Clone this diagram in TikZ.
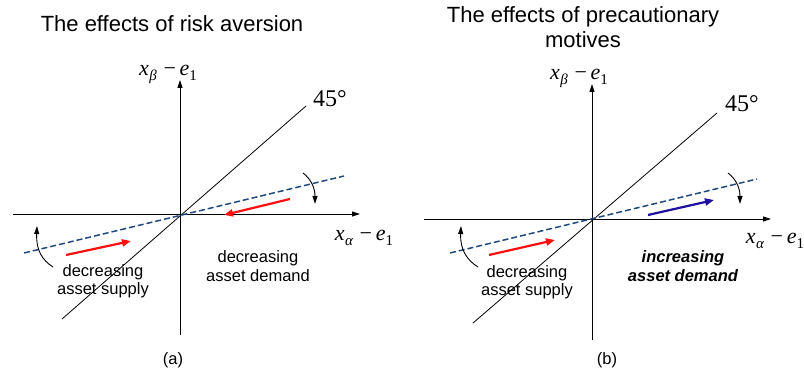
\documentclass[tikz,border=0pt]{standalone}
\usepackage{fontspec}
\setmainfont{Liberation Sans}
\newfontfamily\tms{Liberation Serif}
\usetikzlibrary{arrows.meta}
\definecolor{dashblue}{RGB}{31,73,125}
\definecolor{arrblue}{RGB}{32,16,160}
\definecolor{arrred}{RGB}{255,16,16}
\newcommand{\axlab}[1]{{\tms\fontsize{22}{24}\selectfont\itshape x\kern0.5pt\raisebox{-5pt}{\fontsize{15}{16}\selectfont #1}\kern3pt\upshape\,\textminus\,\itshape e\raisebox{-5pt}{\upshape\fontsize{15}{16}\selectfont 1}}}
\begin{document}
\begin{tikzpicture}[x=1pt,y=-1pt,
  axis/.style={line width=0.8pt,-{Triangle[length=8pt,width=5pt]}},
  fortyfive/.style={line width=0.8pt},
  dashln/.style={line width=1.5pt,dashed,dash pattern=on 6pt off 3pt,dashblue},
  redarr/.style={line width=2.2pt,arrred,-{Triangle[length=9pt,width=7pt]}},
  bluearr/.style={line width=2.2pt,arrblue,-{Triangle[length=9pt,width=7pt]}},
  curvarr/.style={line width=0.9pt,-{Triangle[length=8pt,width=5pt]}},
  title/.style={font=\fontsize{22}{25}\selectfont,align=center,inner sep=0pt},
  lab/.style={font=\fontsize{16.5}{18.5}\selectfont,align=center,inner sep=0pt},
  deg/.style={font=\tms\fontsize{24}{26}\selectfont,inner sep=0pt},
  math/.style={inner sep=0pt}]
\useasboundingbox (0,0) rectangle (804,377);
% ---------- panel (a)
\node[title] (ta) at (172,24) {The effects of risk aversion};
\coordinate (oa) at (180,214);
\coordinate (ya0) at (180,335);
\coordinate (ya1) at (180,80);
\coordinate (xa0) at (13,214);
\coordinate (xa1) at (360,214);
\draw[axis] (ya0) -- (ya1);
\draw[axis] (xa0) -- (xa1);
\coordinate (fa0) at (62,319);
\coordinate (fa1) at (306,106);
\draw[fortyfive] (fa0) -- (fa1);
\node[deg] (da) at (330,99) {45°};
\coordinate (dla0) at (24,253);
\coordinate (dla1) at (344,176);
\draw[dashln] (dla0) -- (dla1);
\coordinate (ra0) at (66,255);
\coordinate (ra1) at (131,241);
\draw[redarr] (ra0) -- (ra1);
\coordinate (rb0) at (290,199);
\coordinate (rb1) at (224,215);
\draw[redarr] (rb0) -- (rb1);
\coordinate (ca0) at (303,173);
\coordinate (ca1) at (315,204);
\draw[curvarr] (ca0) .. controls (311,179) and (315,188) .. (ca1);
\coordinate (cb0) at (53,267);
\coordinate (cb1) at (37,226);
\draw[curvarr] (cb0) .. controls (42,260) and (36,250) .. (cb1);
\node[math] (xla) at (364,238) {\axlab{α}};
\node[math] (yla) at (168,74) {\axlab{β}};
\node[lab] (sa) at (103,281) {decreasing\\asset supply};
\node[lab] (dma) at (258,266) {decreasing\\asset demand};
\node[lab] (pa) at (173,360) {(a)};
% ---------- panel (b)
\node[title] (tb) at (583,27) {The effects of precautionary\\motives};
\coordinate (ob) at (592,219);
\coordinate (yb0) at (592,340);
\coordinate (yb1) at (592,84);
\coordinate (xb0) at (424,219);
\coordinate (xb1) at (771,219);
\draw[axis] (yb0) -- (yb1);
\draw[axis] (xb0) -- (xb1);
\coordinate (fb0) at (473,323);
\coordinate (fb1) at (717,113);
\draw[fortyfive] (fb0) -- (fb1);
\node[deg] (db) at (742,104) {45°};
\coordinate (dlb0) at (450,253);
\coordinate (dlb1) at (757,179);
\draw[dashln] (dlb0) -- (dlb1);
\coordinate (rc0) at (489,255);
\coordinate (rc1) at (555,240);
\draw[redarr] (rc0) -- (rc1);
\coordinate (bb0) at (648,215);
\coordinate (bb1) at (714,200);
\draw[bluearr] (bb0) -- (bb1);
\coordinate (cc0) at (728,173);
\coordinate (cc1) at (740,204);
\draw[curvarr] (cc0) .. controls (736,179) and (740,188) .. (cc1);
\coordinate (cd0) at (478,267);
\coordinate (cd1) at (461,226);
\draw[curvarr] (cd0) .. controls (467,260) and (460,250) .. (cd1);
\node[math] (xlb) at (775,241) {\axlab{α}};
\node[math] (ylb) at (579,78) {\axlab{β}};
\node[lab] (sb) at (527,282) {decreasing\\asset supply};
\node[lab,font=\fontsize{16.5}{18.5}\selectfont\bfseries\itshape] (dmb) at (683,266) {increasing\\asset demand};
\node[lab] (pb) at (607,360) {(b)};
\end{tikzpicture}
\end{document}
